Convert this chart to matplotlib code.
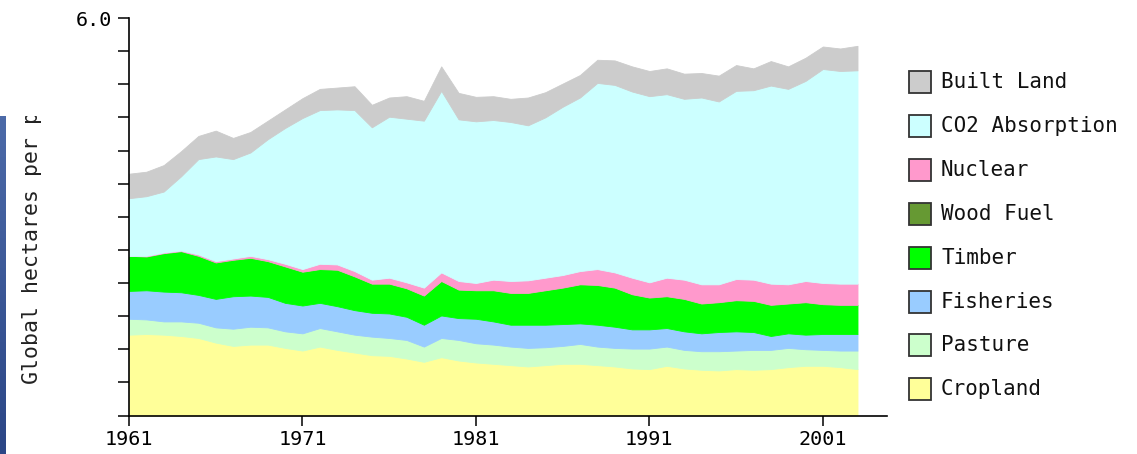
import numpy as np
import matplotlib.pyplot as plt
from matplotlib.patches import Rectangle
from matplotlib.colors import LinearSegmentedColormap
from matplotlib.transforms import Bbox, TransformedBbox

# ecological footprint per person, global hectares, stacked bottom -> top
years = list(range(1961, 2004))
cropland = [1.22, 1.23, 1.22, 1.20, 1.17, 1.10, 1.05, 1.07, 1.07, 1.02,
            0.98, 1.04, 0.99, 0.95, 0.91, 0.90, 0.86, 0.81, 0.88, 0.83,
            0.80, 0.78, 0.76, 0.74, 0.76, 0.78, 0.78, 0.76, 0.74, 0.71,
            0.70, 0.75, 0.71, 0.69, 0.68, 0.70, 0.69, 0.70, 0.73, 0.75,
            0.75, 0.73, 0.70]
pasture = [0.24, 0.22, 0.20, 0.22, 0.23, 0.23, 0.26, 0.27, 0.26, 0.25,
           0.26, 0.28, 0.28, 0.27, 0.28, 0.27, 0.28, 0.23, 0.29, 0.31,
           0.29, 0.29, 0.28, 0.28, 0.27, 0.27, 0.30, 0.28, 0.28, 0.30,
           0.31, 0.29, 0.28, 0.28, 0.29, 0.28, 0.30, 0.29, 0.29, 0.25,
           0.24, 0.25, 0.28]
fisheries = [0.42, 0.44, 0.45, 0.44, 0.42, 0.43, 0.49, 0.47, 0.46, 0.43,
             0.42, 0.38, 0.38, 0.37, 0.36, 0.37, 0.35, 0.33, 0.34, 0.33,
             0.37, 0.35, 0.33, 0.35, 0.34, 0.33, 0.31, 0.33, 0.32, 0.29,
             0.29, 0.28, 0.28, 0.27, 0.29, 0.29, 0.27, 0.21, 0.22, 0.22,
             0.24, 0.25, 0.25]
timber = [0.53, 0.51, 0.58, 0.62, 0.59, 0.55, 0.55, 0.57, 0.54, 0.55,
          0.51, 0.51, 0.55, 0.51, 0.44, 0.45, 0.43, 0.44, 0.52, 0.43,
          0.43, 0.47, 0.48, 0.48, 0.52, 0.55, 0.59, 0.60, 0.59, 0.53,
          0.48, 0.48, 0.49, 0.45, 0.45, 0.47, 0.47, 0.47, 0.45, 0.49,
          0.45, 0.44, 0.44]
wood_fuel = [0.00, 0.00, 0.00, 0.00, 0.00, 0.00, 0.00, 0.00, 0.00, 0.00,
             0.00, 0.00, 0.00, 0.00, 0.00, 0.00, 0.00, 0.00, 0.00, 0.00,
             0.00, 0.00, 0.00, 0.00, 0.00, 0.00, 0.00, 0.00, 0.00, 0.00,
             0.00, 0.00, 0.00, 0.00, 0.00, 0.00, 0.00, 0.00, 0.00, 0.00,
             0.00, 0.00, 0.00]
nuclear = [0.00, 0.01, 0.01, 0.01, 0.02, 0.02, 0.02, 0.03, 0.03, 0.04,
           0.04, 0.08, 0.08, 0.08, 0.06, 0.09, 0.09, 0.12, 0.13, 0.13,
           0.11, 0.16, 0.18, 0.19, 0.19, 0.19, 0.20, 0.24, 0.23, 0.25,
           0.23, 0.28, 0.29, 0.29, 0.27, 0.32, 0.32, 0.32, 0.29, 0.32,
           0.32, 0.32, 0.32]
co2 = [0.87, 0.90, 0.92, 1.12, 1.44, 1.58, 1.50, 1.56, 1.81, 2.05,
       2.28, 2.32, 2.34, 2.43, 2.30, 2.43, 2.47, 2.52, 2.74, 2.44,
       2.44, 2.41, 2.40, 2.34, 2.42, 2.54, 2.62, 2.81, 2.83, 2.81,
       2.81, 2.77, 2.73, 2.82, 2.76, 2.84, 2.86, 2.99, 2.95, 3.02,
       3.23, 3.21, 3.22]
built = [0.37, 0.37, 0.40, 0.38, 0.35, 0.39, 0.32, 0.31, 0.28, 0.28,
         0.30, 0.32, 0.33, 0.36, 0.34, 0.29, 0.34, 0.30, 0.37, 0.40,
         0.37, 0.36, 0.35, 0.42, 0.38, 0.35, 0.34, 0.35, 0.37, 0.38,
         0.38, 0.39, 0.38, 0.37, 0.39, 0.39, 0.33, 0.37, 0.34, 0.35,
         0.34, 0.34, 0.37]

labels = ['Cropland', 'Pasture', 'Fisheries', 'Timber', 'Wood Fuel',
          'Nuclear', 'CO2 Absorption', 'Built Land']
colors = ['#ffff99', '#ccffcc', '#99ccff', '#00ff00', '#669933',
          '#ff99cc', '#ccffff', '#cccccc']
xtick_years = [1961, 1971, 1981, 1991, 2001]

FONT = 'DejaVu Sans Mono'
FS = 14.5
W, H = 1137, 454

fig = plt.figure(figsize=(W / 100, H / 100), dpi=100)
ax = fig.add_axes([129 / W, (H - 415.5) / H, 758 / W, 397.5 / H])

polys = ax.stackplot(years, cropland, pasture, fisheries, timber, wood_fuel,
                     nuclear, co2, built, colors=colors, labels=labels)
for p, c, lab in zip(polys, colors, labels):
    if lab == 'Wood Fuel':
        p.set_linewidth(0)
    else:
        p.set_edgecolor(c)
        p.set_linewidth(0.6)

ax.set_xlim(1961, 2004.7)
ax.set_ylim(0, 6)
for s in ['top', 'right']:
    ax.spines[s].set_visible(False)
for s in ['left', 'bottom']:
    ax.spines[s].set_linewidth(1.2)

ax.set_xticks(xtick_years)
ax.set_xticklabels([str(y) for y in xtick_years], fontfamily=FONT, fontsize=FS)
yt = np.arange(0, 6.01, 0.5)
ax.set_yticks(yt)
ax.set_yticklabels(['6.0' if abs(v - 6) < 1e-9 else '' for v in yt],
                   fontfamily=FONT, fontsize=FS)
ax.tick_params(axis='x', direction='out', length=7.5, width=1.1, pad=3)
ax.tick_params(axis='y', direction='out', length=8, width=1.1, pad=4)

# y label, clipped at the top like the original page
t = fig.text(32 / W, (H - 384) / H, 'Global hectares per person', rotation=90,
             ha='center', va='bottom', fontfamily=FONT, fontsize=15.5, color='#222222')
t.set_clip_box(TransformedBbox(Bbox.from_extents(0, 0, 1, (H - 116) / H), fig.transFigure))
t.set_clip_on(True)

# blue strip on the left edge
bar_ax = fig.add_axes([0, 0, 5 / W, (H - 116) / H])
cmap = LinearSegmentedColormap.from_list('strip', ['#4c6aa8', '#2b4686'])
bar_ax.imshow(np.linspace(0, 1, 100).reshape(-1, 1), aspect='auto', cmap=cmap)
bar_ax.axis('off')

# legend, top entry first
for i, (lab, c) in enumerate(zip(labels[::-1], colors[::-1])):
    yc = 82 + i * 43.9
    fig.add_artist(Rectangle((909 / W, (H - yc - 11) / H), 22 / W, 22 / H,
                             transform=fig.transFigure, facecolor=c,
                             edgecolor='#333333', linewidth=1.3))
    fig.text(941 / W, (H - yc) / H, lab, ha='left', va='center',
             fontfamily=FONT, fontsize=15, color='#111111')

fig.savefig('out.png', dpi=100)
